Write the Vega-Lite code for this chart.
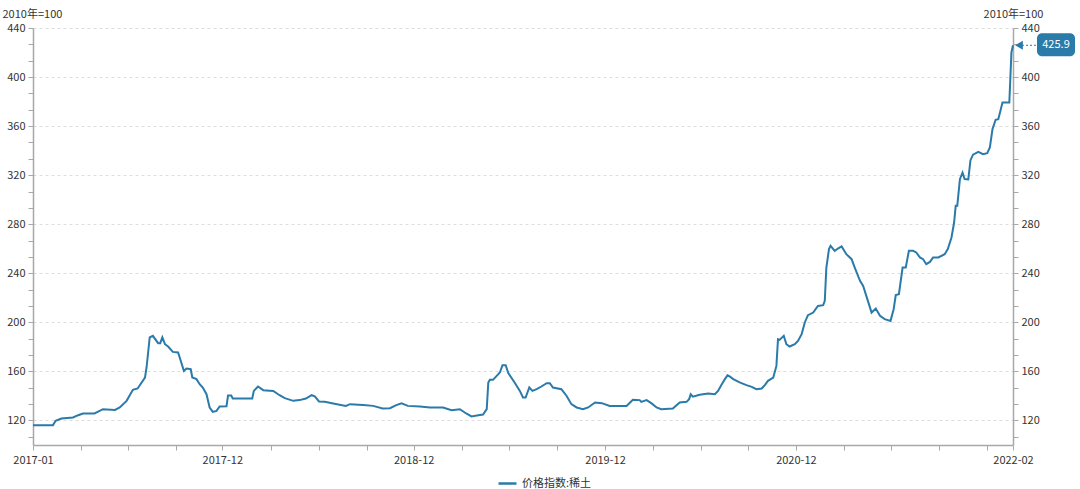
{
  "$schema": "https://vega.github.io/schema/vega-lite/v6.json",
  "width": 980,
  "height": 417,
  "autosize": {"type": "none"},
  "padding": {"left": 33, "top": 28, "right": 67, "bottom": 44},
  "background": "#ffffff",
  "config": {
    "view": {"stroke": null},
    "font": "Noto Sans CJK SC",
    "axis": {
      "labelFont": "Noto Sans CJK SC",
      "titleFont": "Noto Sans CJK SC",
      "labelFontSize": 11,
      "titleFontSize": 11,
      "labelColor": "#333333",
      "titleColor": "#333333",
      "titleFontWeight": "normal",
      "domainColor": "#a8a8a8",
      "domainWidth": 1.5,
      "tickColor": "#a8a8a8",
      "tickSize": 5,
      "labelOverlap": false
    },
    "legend": {"labelFont": "Noto Sans CJK SC"}
  },
  "data": {
    "values": [
      {"date": "2017-01-03", "value": 116.2},
      {"date": "2017-02-10", "value": 116.2},
      {"date": "2017-02-15", "value": 119.7},
      {"date": "2017-02-26", "value": 121.6},
      {"date": "2017-03-20", "value": 122.4},
      {"date": "2017-03-30", "value": 124.3},
      {"date": "2017-04-08", "value": 125.7},
      {"date": "2017-04-30", "value": 125.7},
      {"date": "2017-05-16", "value": 129.2},
      {"date": "2017-06-08", "value": 128.6},
      {"date": "2017-06-17", "value": 130.6},
      {"date": "2017-06-30", "value": 136.0},
      {"date": "2017-07-12", "value": 145.0},
      {"date": "2017-07-21", "value": 146.1},
      {"date": "2017-08-04", "value": 155.0},
      {"date": "2017-08-07", "value": 163.2},
      {"date": "2017-08-13", "value": 187.7},
      {"date": "2017-08-19", "value": 189.0},
      {"date": "2017-08-29", "value": 183.0},
      {"date": "2017-09-02", "value": 183.0},
      {"date": "2017-09-06", "value": 187.7},
      {"date": "2017-09-11", "value": 182.2},
      {"date": "2017-09-17", "value": 180.3},
      {"date": "2017-09-26", "value": 175.9},
      {"date": "2017-10-06", "value": 175.4},
      {"date": "2017-10-12", "value": 167.3},
      {"date": "2017-10-17", "value": 160.4},
      {"date": "2017-10-22", "value": 162.4},
      {"date": "2017-10-30", "value": 161.8},
      {"date": "2017-11-02", "value": 155.0},
      {"date": "2017-11-10", "value": 153.7},
      {"date": "2017-11-16", "value": 149.6},
      {"date": "2017-11-22", "value": 146.9},
      {"date": "2017-11-29", "value": 141.4},
      {"date": "2017-12-05", "value": 130.6},
      {"date": "2017-12-11", "value": 127.0},
      {"date": "2017-12-18", "value": 127.8},
      {"date": "2017-12-24", "value": 131.4},
      {"date": "2018-01-06", "value": 131.6},
      {"date": "2018-01-09", "value": 140.3},
      {"date": "2018-01-15", "value": 140.3},
      {"date": "2018-01-18", "value": 137.9},
      {"date": "2018-02-24", "value": 137.9},
      {"date": "2018-02-27", "value": 144.1},
      {"date": "2018-03-07", "value": 147.7},
      {"date": "2018-03-17", "value": 144.7},
      {"date": "2018-04-05", "value": 144.1},
      {"date": "2018-04-17", "value": 140.6},
      {"date": "2018-04-27", "value": 138.2},
      {"date": "2018-05-13", "value": 136.0},
      {"date": "2018-05-25", "value": 136.6},
      {"date": "2018-06-06", "value": 137.9},
      {"date": "2018-06-17", "value": 140.6},
      {"date": "2018-06-23", "value": 139.6},
      {"date": "2018-07-01", "value": 135.5},
      {"date": "2018-07-12", "value": 135.2},
      {"date": "2018-07-28", "value": 133.9},
      {"date": "2018-08-21", "value": 131.9},
      {"date": "2018-08-29", "value": 133.3},
      {"date": "2018-09-23", "value": 132.7},
      {"date": "2018-10-12", "value": 131.9},
      {"date": "2018-10-30", "value": 129.8},
      {"date": "2018-11-13", "value": 130.0},
      {"date": "2018-11-25", "value": 132.5},
      {"date": "2018-12-05", "value": 133.9},
      {"date": "2018-12-17", "value": 131.9},
      {"date": "2019-01-09", "value": 131.4},
      {"date": "2019-01-28", "value": 130.6},
      {"date": "2019-02-22", "value": 130.6},
      {"date": "2019-03-10", "value": 128.4},
      {"date": "2019-03-26", "value": 129.2},
      {"date": "2019-04-07", "value": 125.7},
      {"date": "2019-04-17", "value": 123.3},
      {"date": "2019-04-30", "value": 124.3},
      {"date": "2019-05-09", "value": 124.9},
      {"date": "2019-05-16", "value": 129.2},
      {"date": "2019-05-19", "value": 151.0},
      {"date": "2019-05-22", "value": 153.1},
      {"date": "2019-05-28", "value": 153.1},
      {"date": "2019-06-10", "value": 159.1},
      {"date": "2019-06-15", "value": 165.1},
      {"date": "2019-06-21", "value": 165.1},
      {"date": "2019-06-26", "value": 158.6},
      {"date": "2019-07-08", "value": 151.0},
      {"date": "2019-07-18", "value": 144.1},
      {"date": "2019-07-24", "value": 138.7},
      {"date": "2019-07-29", "value": 138.7},
      {"date": "2019-08-05", "value": 146.9},
      {"date": "2019-08-11", "value": 144.1},
      {"date": "2019-08-19", "value": 145.5},
      {"date": "2019-08-28", "value": 147.7},
      {"date": "2019-09-07", "value": 150.4},
      {"date": "2019-09-13", "value": 150.4},
      {"date": "2019-09-19", "value": 146.9},
      {"date": "2019-10-05", "value": 145.5},
      {"date": "2019-10-15", "value": 140.0},
      {"date": "2019-10-24", "value": 133.3},
      {"date": "2019-11-03", "value": 130.6},
      {"date": "2019-11-15", "value": 129.2},
      {"date": "2019-11-25", "value": 130.6},
      {"date": "2019-12-08", "value": 134.7},
      {"date": "2019-12-21", "value": 134.1},
      {"date": "2020-01-05", "value": 131.9},
      {"date": "2020-02-06", "value": 131.9},
      {"date": "2020-02-18", "value": 136.8},
      {"date": "2020-03-02", "value": 136.6},
      {"date": "2020-03-05", "value": 135.2},
      {"date": "2020-03-15", "value": 136.6},
      {"date": "2020-03-24", "value": 134.1},
      {"date": "2020-04-03", "value": 130.6},
      {"date": "2020-04-12", "value": 129.2},
      {"date": "2020-05-04", "value": 129.8},
      {"date": "2020-05-17", "value": 134.7},
      {"date": "2020-05-30", "value": 135.2},
      {"date": "2020-06-04", "value": 137.4},
      {"date": "2020-06-07", "value": 141.4},
      {"date": "2020-06-11", "value": 139.4},
      {"date": "2020-06-24", "value": 140.9},
      {"date": "2020-07-10", "value": 142.0},
      {"date": "2020-07-23", "value": 141.4},
      {"date": "2020-07-29", "value": 144.1},
      {"date": "2020-08-04", "value": 148.8},
      {"date": "2020-08-11", "value": 153.7},
      {"date": "2020-08-16", "value": 156.9},
      {"date": "2020-08-20", "value": 155.9},
      {"date": "2020-08-27", "value": 153.7},
      {"date": "2020-09-08", "value": 151.0},
      {"date": "2020-09-21", "value": 148.8},
      {"date": "2020-10-01", "value": 147.4},
      {"date": "2020-10-10", "value": 145.5},
      {"date": "2020-10-20", "value": 146.1},
      {"date": "2020-10-26", "value": 148.8},
      {"date": "2020-11-01", "value": 152.3},
      {"date": "2020-11-11", "value": 155.0},
      {"date": "2020-11-17", "value": 164.5},
      {"date": "2020-11-20", "value": 186.3},
      {"date": "2020-11-23", "value": 185.7},
      {"date": "2020-12-01", "value": 189.0},
      {"date": "2020-12-06", "value": 182.2},
      {"date": "2020-12-12", "value": 180.3},
      {"date": "2020-12-22", "value": 182.2},
      {"date": "2020-12-28", "value": 184.9},
      {"date": "2021-01-04", "value": 190.4},
      {"date": "2021-01-10", "value": 199.9},
      {"date": "2021-01-16", "value": 205.9},
      {"date": "2021-01-26", "value": 208.0},
      {"date": "2021-02-04", "value": 213.4},
      {"date": "2021-02-14", "value": 214.0},
      {"date": "2021-02-17", "value": 217.5},
      {"date": "2021-02-20", "value": 244.7},
      {"date": "2021-02-25", "value": 259.7},
      {"date": "2021-02-28", "value": 262.4},
      {"date": "2021-03-08", "value": 258.3},
      {"date": "2021-03-14", "value": 260.2},
      {"date": "2021-03-21", "value": 261.9},
      {"date": "2021-03-30", "value": 255.6},
      {"date": "2021-04-09", "value": 251.5},
      {"date": "2021-04-15", "value": 244.7},
      {"date": "2021-04-25", "value": 233.8},
      {"date": "2021-05-01", "value": 229.7},
      {"date": "2021-05-10", "value": 217.5},
      {"date": "2021-05-17", "value": 208.0},
      {"date": "2021-05-25", "value": 211.3},
      {"date": "2021-06-02", "value": 205.3},
      {"date": "2021-06-11", "value": 202.6},
      {"date": "2021-06-22", "value": 201.2},
      {"date": "2021-06-28", "value": 210.7},
      {"date": "2021-07-02", "value": 222.2},
      {"date": "2021-07-08", "value": 223.0},
      {"date": "2021-07-15", "value": 244.7},
      {"date": "2021-07-21", "value": 244.7},
      {"date": "2021-07-27", "value": 258.3},
      {"date": "2021-08-04", "value": 258.3},
      {"date": "2021-08-10", "value": 257.0},
      {"date": "2021-08-17", "value": 252.9},
      {"date": "2021-08-23", "value": 251.5},
      {"date": "2021-08-29", "value": 247.4},
      {"date": "2021-09-05", "value": 249.3},
      {"date": "2021-09-11", "value": 252.9},
      {"date": "2021-09-21", "value": 252.9},
      {"date": "2021-10-03", "value": 255.6},
      {"date": "2021-10-09", "value": 259.7},
      {"date": "2021-10-16", "value": 269.2},
      {"date": "2021-10-21", "value": 281.4},
      {"date": "2021-10-24", "value": 295.0},
      {"date": "2021-10-27", "value": 295.0},
      {"date": "2021-11-01", "value": 316.7},
      {"date": "2021-11-06", "value": 322.0},
      {"date": "2021-11-10", "value": 316.8},
      {"date": "2021-11-17", "value": 316.5},
      {"date": "2021-11-21", "value": 332.0},
      {"date": "2021-11-26", "value": 336.7},
      {"date": "2021-12-06", "value": 339.0},
      {"date": "2021-12-15", "value": 337.1},
      {"date": "2021-12-23", "value": 337.9},
      {"date": "2021-12-28", "value": 342.6},
      {"date": "2022-01-02", "value": 357.6},
      {"date": "2022-01-08", "value": 365.2},
      {"date": "2022-01-13", "value": 365.7},
      {"date": "2022-01-17", "value": 372.4},
      {"date": "2022-01-21", "value": 379.3},
      {"date": "2022-02-03", "value": 379.3},
      {"date": "2022-02-07", "value": 420.1},
      {"date": "2022-02-10", "value": 425.9}
    ]
  },
  "resolve": {"scale": {"y": "shared", "x": "shared"}, "axis": {"y": "independent", "x": "independent"}},
  "layer": [
    {
      "mark": {"type": "line", "strokeWidth": 2, "interpolate": "linear"},
      "encoding": {
        "x": {
          "field": "date",
          "type": "temporal",
          "scale": {
            "type": "utc",
            "domain": [
              {"year": 2017, "month": 1, "date": 3, "utc": true},
              {"year": 2022, "month": 2, "date": 10, "utc": true}
            ]
          },
          "axis": {
            "orient": "bottom",
            "title": null,
            "grid": false,
            "labelFlush": false,
            "labelPadding": 4,
            "values": [
              {"year": 2017, "month": 1, "date": 3, "utc": true},
              {"year": 2017, "month": 4, "date": 4, "utc": true},
              {"year": 2017, "month": 7, "date": 3, "utc": true},
              {"year": 2017, "month": 10, "date": 2, "utc": true},
              {"year": 2017, "month": 12, "date": 29, "utc": true},
              {"year": 2018, "month": 4, "date": 1, "utc": true},
              {"year": 2018, "month": 7, "date": 1, "utc": true},
              {"year": 2018, "month": 9, "date": 30, "utc": true},
              {"year": 2018, "month": 12, "date": 28, "utc": true},
              {"year": 2019, "month": 3, "date": 30, "utc": true},
              {"year": 2019, "month": 6, "date": 28, "utc": true},
              {"year": 2019, "month": 9, "date": 27, "utc": true},
              {"year": 2019, "month": 12, "date": 27, "utc": true},
              {"year": 2020, "month": 3, "date": 27, "utc": true},
              {"year": 2020, "month": 6, "date": 26, "utc": true},
              {"year": 2020, "month": 9, "date": 24, "utc": true},
              {"year": 2020, "month": 12, "date": 24, "utc": true},
              {"year": 2021, "month": 3, "date": 25, "utc": true},
              {"year": 2021, "month": 6, "date": 23, "utc": true},
              {"year": 2021, "month": 9, "date": 22, "utc": true},
              {"year": 2021, "month": 12, "date": 22, "utc": true},
              {"year": 2022, "month": 2, "date": 10, "utc": true}
            ],
            "labelExpr": "indexof(['2017-01','2017-12','2018-12','2019-12','2020-12','2022-02'], utcFormat(datum.value, '%Y-%m')) >= 0 ? utcFormat(datum.value, '%Y-%m') : ''"
          }
        },
        "y": {
          "field": "value",
          "type": "quantitative",
          "scale": {"domain": [100, 440], "nice": false, "zero": false},
          "axis": {
            "orient": "left",
            "title": "2010年=100",
            "titleAngle": 0,
            "titleAlign": "left",
            "titleBaseline": "alphabetic",
            "titleX": -31,
            "titleY": -11,
            "labelPadding": 3,
            "values": [106.6667, 120, 133.3333, 146.6667, 160, 173.3333, 186.6667, 200, 213.3333, 226.6667, 240, 253.3333, 266.6667, 280, 293.3333, 306.6667, 320, 333.3333, 346.6667, 360, 373.3333, 386.6667, 400, 413.3333, 426.6667, 440],
            "labelExpr": "datum.value % 40 == 0 ? datum.label : ''",
            "grid": true,
            "gridDash": [3, 3],
            "gridColor": {"condition": {"test": "datum.value % 40 == 0", "value": "#dddddd"}, "value": "transparent"}
          }
        },
        "color": {
          "datum": "价格指数:稀土",
          "type": "nominal",
          "scale": {"range": ["#2a7aaa"]},
          "legend": {
            "title": null,
            "orient": "none",
            "legendX": 464,
            "legendY": 445,
            "padding": 0,
            "symbolType": "stroke",
            "symbolSize": 324,
            "symbolStrokeWidth": 2.5,
            "labelFontSize": 11,
            "labelColor": "#333333",
            "labelOffset": 4
          }
        }
      }
    },
    {
      "transform": [{"filter": "datum.value == 425.9"}],
      "mark": {"type": "rule", "strokeDash": [2, 2], "color": "#2a7aaa", "strokeWidth": 1, "xOffset": 9, "x2Offset": 24},
      "encoding": {
        "x": {"field": "date", "type": "temporal", "axis": null},
        "x2": {"field": "date"},
        "y": {
          "field": "value",
          "type": "quantitative",
          "axis": {
            "orient": "right",
            "title": "2010年=100",
            "titleAngle": 0,
            "titleAlign": "center",
            "titleBaseline": "alphabetic",
            "titleX": 0,
            "titleY": -11,
            "labelPadding": 3,
            "grid": false,
            "values": [106.6667, 120, 133.3333, 146.6667, 160, 173.3333, 186.6667, 200, 213.3333, 226.6667, 240, 253.3333, 266.6667, 280, 293.3333, 306.6667, 320, 333.3333, 346.6667, 360, 373.3333, 386.6667, 400, 413.3333, 426.6667, 440],
            "labelExpr": "datum.value % 40 == 0 ? datum.label : ''"
          }
        }
      }
    },
    {
      "transform": [{"filter": "datum.value == 425.9"}],
      "mark": {"type": "point", "shape": "triangle-left", "filled": true, "size": 80, "opacity": 1, "color": "#2a7aaa", "xOffset": 6},
      "encoding": {
        "x": {"field": "date", "type": "temporal", "axis": null},
        "y": {"field": "value", "type": "quantitative", "axis": null}
      }
    },
    {
      "transform": [{"filter": "datum.value == 425.9"}],
      "mark": {"type": "rect", "color": "#2a7aaa", "cornerRadius": 5, "xOffset": 24, "x2Offset": 62, "yOffset": -12, "y2Offset": 11},
      "encoding": {
        "x": {"field": "date", "type": "temporal", "axis": null},
        "x2": {"field": "date"},
        "y": {"field": "value", "type": "quantitative", "axis": null},
        "y2": {"field": "value"}
      }
    },
    {
      "transform": [{"filter": "datum.value == 425.9"}],
      "mark": {"type": "text", "color": "#ffffff", "fontSize": 11, "align": "center", "baseline": "middle", "xOffset": 43},
      "encoding": {
        "x": {"field": "date", "type": "temporal", "axis": null},
        "y": {"field": "value", "type": "quantitative", "axis": null},
        "text": {"field": "value", "type": "quantitative", "format": ".1f"}
      }
    }
  ]
}
